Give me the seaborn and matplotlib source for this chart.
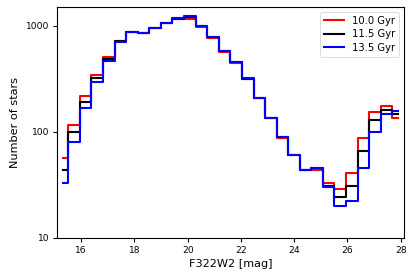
import numpy as np
import pandas as pd
import matplotlib
matplotlib.use("Agg")
import matplotlib.pyplot as plt
import seaborn as sns

# Bin centres (F322W2 magnitude)
mag = [15.30, 15.73, 16.17, 16.60, 17.04, 17.47, 17.91, 18.34, 18.78, 19.21,
       19.64, 20.08, 20.51, 20.95, 21.38, 21.82, 22.25, 22.69, 23.12, 23.56,
       23.99, 24.42, 24.86, 25.29, 25.73, 26.16, 26.60, 27.03, 27.47, 27.90]

n_10_0 = [57, 116, 218, 342, 506, 726, 877, 858, 955, 1055,
          1157, 1165, 972, 775, 572, 450, 316, 207, 134, 88,
          60, 44, 44, 33, 29, 41, 88, 154, 174, 136]
n_11_5 = [44, 100, 191, 320, 484, 715, 877, 862, 957, 1058,
          1175, 1220, 990, 780, 576, 455, 318, 209, 135, 89,
          61, 44, 46, 31, 24, 31, 66, 130, 162, 146]
n_13_5 = [33, 80, 169, 298, 467, 706, 877, 865, 960, 1060,
          1185, 1245, 1000, 782, 578, 457, 320, 210, 136, 90,
          61, 44, 46, 30, 20, 22, 46, 100, 147, 158]

ages = ["10.0 Gyr", "11.5 Gyr", "13.5 Gyr"]
colors = ["#ff0000", "#000000", "#0000ff"]

df = pd.concat([
    pd.DataFrame({"mag": mag, "n": n, "age": a})
    for n, a in zip([n_10_0, n_11_5, n_13_5], ages)
], ignore_index=True)

fig = plt.figure(figsize=(4.15, 2.79), dpi=100)
ax = fig.add_axes([0.138, 0.148, 0.836, 0.828])

sns.lineplot(data=df, x="mag", y="n", hue="age", hue_order=ages,
             palette=dict(zip(ages, colors)), drawstyle="steps-mid",
             linewidth=1.5, ax=ax, legend=True)

ax.set_yscale("log")
ax.set_ylim(10, 1520)
ax.set_xlim(15.1, 28.13)
ax.set_xticks([16, 18, 20, 22, 24, 26, 28])
ax.set_yticks([10, 100, 1000])
ax.set_yticklabels(["10", "100", "1000"])
ax.minorticks_off()
ax.tick_params(labelsize=6.6, length=3.2, width=0.8, pad=2.5)
for s in ax.spines.values():
    s.set_linewidth(0.8)

ax.set_xlabel("F322W2 [mag]", fontsize=8.1, labelpad=3)
ax.set_ylabel("Number of stars", fontsize=8.1, labelpad=4)

leg = ax.legend(loc="upper right", fontsize=7.2, frameon=True,
                handlelength=2.0, borderpad=0.4, labelspacing=0.35,
                handletextpad=0.8, borderaxespad=0.5)
leg.get_frame().set_linewidth(0.6)

fig.savefig("out.png", dpi=100)
